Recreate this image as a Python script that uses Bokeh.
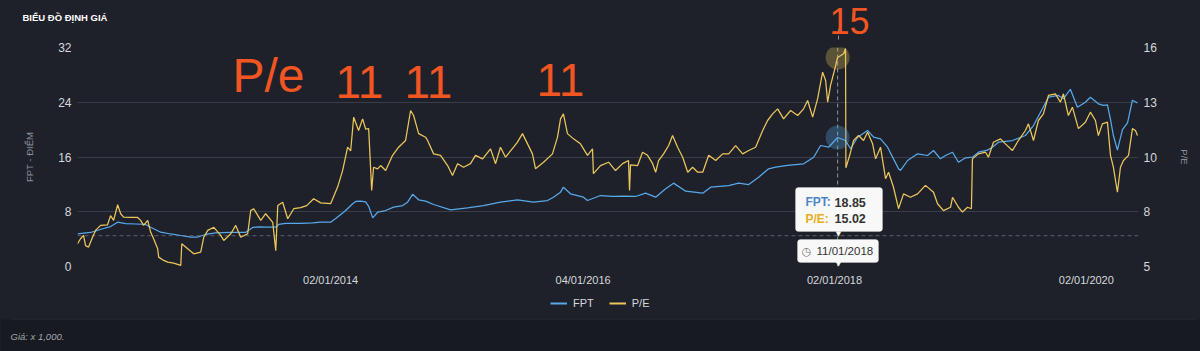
import math
from datetime import datetime
from bokeh.plotting import figure
from bokeh.layouts import column
from bokeh.models import (Range1d, LinearAxis, FixedTicker, DatetimeTickFormatter, Span, Label,
                          BoxAnnotation, Legend, LegendItem)
from bokeh.embed import file_html
from bokeh.resources import INLINE

# ---------------- data ----------------
# dates as decimal years
fpt_years = [
    2011.995, 2012.098, 2012.202, 2012.257, 2012.313, 2012.376, 2012.456, 2012.535, 2012.575, 2012.654,
    2012.733, 2012.813, 2012.892, 2012.948,
    2013.011, 2013.090, 2013.210, 2013.329, 2013.384, 2013.432, 2013.487, 2013.567, 2013.590, 2013.646,
    2013.765, 2013.860, 2013.924,
    2014.003, 2014.043, 2014.106, 2014.122, 2014.178, 2014.202, 2014.241, 2014.281, 2014.305, 2014.337,
    2014.376, 2014.440, 2014.503, 2014.575, 2014.614, 2014.654, 2014.702, 2014.757, 2014.821, 2014.956,
    2015.090, 2015.217, 2015.352, 2015.487, 2015.614, 2015.725, 2015.773, 2015.829, 2015.852, 2015.908,
    2016.011, 2016.043, 2016.146, 2016.241, 2016.329, 2016.424, 2016.503, 2016.583, 2016.662, 2016.725,
    2016.821, 2016.956,
    2017.019, 2017.162, 2017.241, 2017.321, 2017.400, 2017.479, 2017.535, 2017.630, 2017.757, 2017.837,
    2017.892, 2017.956,
    2018.027, 2018.090, 2018.130, 2018.186, 2018.265, 2018.313, 2018.368, 2018.424, 2018.471, 2018.511,
    2018.527, 2018.583, 2018.662, 2018.741, 2018.789, 2018.844, 2018.884, 2018.940, 2018.987,
    2019.043, 2019.098, 2019.146, 2019.217, 2019.257, 2019.305, 2019.416, 2019.519, 2019.583, 2019.638,
    2019.702, 2019.781, 2019.821, 2019.876, 2019.932, 2019.995,
    2020.035, 2020.098, 2020.138, 2020.170, 2020.194, 2020.217, 2020.249, 2020.289, 2020.329, 2020.368,
    2020.408,
]
fpt_values = [
    4.78, 4.97, 5.55, 5.84, 6.47, 6.28, 6.21, 6.14, 5.74, 5.01, 4.75, 4.53, 4.28, 4.31,
    4.68, 4.90, 4.97, 5.00, 5.70, 5.80, 5.74, 5.74, 6.14, 6.30, 6.30, 6.36, 6.50,
    6.47, 7.00, 7.93, 8.18, 9.16, 9.50, 9.55, 9.45, 8.80, 7.10, 7.93, 8.18, 8.67, 8.90, 9.40, 10.55,
    9.75, 9.55, 9.06, 8.28,
    8.57, 8.91, 9.40, 9.74, 9.40, 9.64, 10.13, 10.86, 11.59, 10.62,
    10.13, 9.64, 10.37, 10.23, 10.30, 10.23, 10.71, 10.13, 11.35, 12.18, 11.00, 10.71,
    11.59, 11.83, 12.17, 11.98, 13.05, 14.28, 14.51, 14.76, 15.00, 15.97, 17.68, 17.43,
    18.85, 18.41, 17.20, 18.89, 19.87, 18.90, 18.65, 17.43, 15.73, 14.28, 14.03, 15.49, 16.46, 16.22,
    16.95, 15.73, 16.22, 16.70, 15.24,
    15.88, 15.97, 16.70, 17.00, 17.43, 18.16, 18.41, 19.14, 20.60, 22.50, 24.74, 24.99, 24.50, 25.90,
    23.28, 24.01,
    24.74, 23.77, 23.53, 23.60, 21.50, 19.14, 17.00, 20.00, 21.00, 24.30, 23.90,
]

pe_years = [
    2011.995, 2012.019, 2012.043, 2012.059, 2012.083, 2012.114, 2012.138, 2012.178, 2012.233, 2012.257,
    2012.281, 2012.313, 2012.337, 2012.360, 2012.416, 2012.471, 2012.495, 2012.519, 2012.551, 2012.575,
    2012.598, 2012.630, 2012.638, 2012.678, 2012.710, 2012.757, 2012.813, 2012.821, 2012.868, 2012.916,
    2012.971, 2012.995,
    2013.027, 2013.075, 2013.130, 2013.154, 2013.210, 2013.249, 2013.289, 2013.344, 2013.368, 2013.392,
    2013.448, 2013.487, 2013.543, 2013.567, 2013.583, 2013.622, 2013.662, 2013.710, 2013.765, 2013.813,
    2013.868, 2013.924,
    2014.003, 2014.059, 2014.098, 2014.138, 2014.162, 2014.186, 2014.225, 2014.257, 2014.281, 2014.305,
    2014.329, 2014.344, 2014.376, 2014.400, 2014.440, 2014.495, 2014.543, 2014.598, 2014.638, 2014.662,
    2014.702, 2014.757, 2014.773, 2014.821, 2014.876, 2014.932, 2014.971,
    2015.011, 2015.059, 2015.114, 2015.154, 2015.210, 2015.273, 2015.313, 2015.352, 2015.392, 2015.456,
    2015.487, 2015.527, 2015.567, 2015.606, 2015.630, 2015.694, 2015.765, 2015.805, 2015.829, 2015.852,
    2015.884, 2015.932, 2015.987,
    2016.043, 2016.083, 2016.090, 2016.146, 2016.210, 2016.265, 2016.321, 2016.368, 2016.376, 2016.384,
    2016.440, 2016.479, 2016.519, 2016.559, 2016.583, 2016.606, 2016.646, 2016.686, 2016.717, 2016.757,
    2016.797, 2016.837, 2016.876, 2016.916, 2016.956,
    2017.003, 2017.059, 2017.114, 2017.162, 2017.217, 2017.273, 2017.321, 2017.376, 2017.432, 2017.471,
    2017.511, 2017.551, 2017.598, 2017.654, 2017.710, 2017.757, 2017.789, 2017.829, 2017.868, 2017.908,
    2017.932, 2017.948, 2017.971, 2017.995,
    2018.027, 2018.075, 2018.090, 2018.093, 2018.130, 2018.154, 2018.194, 2018.233, 2018.265, 2018.305,
    2018.329, 2018.368, 2018.408, 2018.432, 2018.471, 2018.511, 2018.551, 2018.606, 2018.662, 2018.725,
    2018.789, 2018.821, 2018.868, 2018.924, 2018.940, 2018.987,
    2019.019, 2019.059, 2019.090, 2019.098, 2019.146, 2019.202, 2019.225, 2019.265, 2019.321, 2019.360,
    2019.416, 2019.463, 2019.519, 2019.543, 2019.583, 2019.622, 2019.662, 2019.702, 2019.757, 2019.797,
    2019.821, 2019.860, 2019.892, 2019.940, 2019.995,
    2020.035, 2020.075, 2020.098, 2020.130, 2020.170, 2020.194, 2020.217, 2020.249, 2020.273, 2020.297,
    2020.337, 2020.368, 2020.392, 2020.408,
]
pe_values = [
    6.09, 6.33, 6.49, 6.00, 5.93, 6.40, 6.73, 6.97, 7.00, 7.44, 7.21, 7.96, 7.53, 7.37, 7.35, 7.35,
    7.21, 6.97, 7.21, 6.64, 6.33, 5.85, 5.45, 5.29, 5.21, 5.16, 5.05, 6.09, 5.85, 5.61, 5.69, 6.40,
    6.73, 6.88, 6.49, 6.25, 6.57, 6.97, 6.40, 6.57, 7.68, 7.77, 7.21, 7.53, 7.12, 5.76, 7.92, 8.08,
    7.29, 7.77, 7.82, 7.92, 8.25, 8.05,
    8.01, 8.82, 9.60, 10.72, 10.54, 12.16, 11.52, 12.08, 11.59, 11.61, 8.65, 9.76, 9.68, 9.84, 9.60,
    10.33, 10.72, 11.04, 12.48, 12.24, 11.37, 11.20, 11.04, 10.40, 10.33, 9.84, 9.36,
    9.93, 9.76, 9.93, 10.33, 10.16, 10.64, 9.93, 10.72, 10.24, 10.72, 10.96, 11.37, 10.88, 10.40,
    9.69, 10.00, 10.40, 11.20, 12.08, 12.32, 11.37, 11.12, 10.88,
    10.33, 10.64, 9.45, 9.84, 10.00, 9.60, 9.93, 10.08, 8.65, 9.87, 9.84, 10.48, 10.33, 9.93,
    9.52, 10.08, 10.40, 10.80, 11.28, 10.72, 10.24, 9.52, 9.76, 9.52, 9.52,
    10.33, 10.08, 10.40, 10.40, 10.80, 10.40, 10.56, 10.72, 11.52, 12.00, 12.32, 12.56, 12.08, 12.48,
    12.24, 12.56, 12.96, 12.16, 13.04, 14.32, 13.92, 12.88, 13.68, 14.24,
    15.02, 15.20, 15.45, 9.73, 10.48, 11.04, 11.28, 11.04, 11.44, 10.88, 10.16, 10.72, 9.21, 9.52,
    8.80, 7.77, 8.48, 8.32, 8.48, 8.89, 8.56, 8.01, 7.68, 7.84, 8.32, 7.84,
    7.61, 7.84, 7.77, 10.16, 10.40, 10.48, 10.24, 10.96, 11.12, 10.88, 10.56, 11.04, 11.52, 11.84,
    11.04, 12.00, 12.32, 13.20, 13.28, 12.88, 13.28, 12.24, 12.64, 11.61, 11.92,
    12.40, 12.00, 11.28, 11.84, 11.92, 10.33, 9.76, 8.56, 9.76, 10.08, 10.33, 11.61, 11.52, 11.28,
]

x_tick_dates = ["2014-01-02", "2016-01-04", "2018-01-02", "2020-01-02"]
x_start_year, x_end_year = 2011.995, 2020.416
left_ticks = [0, 8, 16, 24, 32]
right_range = (5, 15.5)
right_ticks = [5, 7.625, 10.25, 12.875, 15.5]
right_tick_labels = ["5", "8", "10", "13", "16"]
hover_date = "2018-01-11"
hover_fpt = 18.85
hover_pe = 15.02
ref_level = 4.5   # dashed reference line (FPT axis)

# ---------------- helpers ----------------
def dec_to_dt(y):
    yr = int(math.floor(y))
    a, b = datetime(yr, 1, 1), datetime(yr + 1, 1, 1)
    return a + (b - a) * (y - yr)

def to_ms(dt):
    return (dt - datetime(1970, 1, 1)).total_seconds() * 1000.0

fpt_x = [dec_to_dt(v) for v in fpt_years]
pe_x = [dec_to_dt(v) for v in pe_years]
hover_dt = datetime.strptime(hover_date, "%Y-%m-%d")

OUTER = "#171a20"
PANEL = "#1e2129"
BORDER = "#2c303a"
GRID = "#383d48"
BLUE = "#58a8ec"
YELLOW = "#ecc75c"
LABEL = "#d5d8dd"
MUTED = "#8a8f98"
FONT = "Liberation Sans"
HAND = "#f25522"
W = 1200
TOP_H, MAIN_H, BOT_H = 41, 249, 61
MAIN_TOP = 6          # space above the plot frame inside the main figure
PAGE_OFF = TOP_H      # page y of the main figure's top edge


def no_align(f):
    try:
        f.frame_align = False
    except Exception:
        pass


def blank_fig(height, y0, y1):
    f = figure(width=W, height=height, output_backend="svg", toolbar_location=None,
               x_range=Range1d(0, W), y_range=Range1d(y0, y1),
               x_axis_location=None, y_axis_location=None,
               min_border=0, min_border_left=0, min_border_right=0, min_border_top=0, min_border_bottom=0,
               background_fill_color=PANEL, border_fill_color=PANEL, outline_line_color=None)
    f.outline_line_alpha = 0
    f.grid.visible = False
    no_align(f)
    return f


def text(fig, x, y, s, size, color, style="normal", align="left", font=FONT, units="data"):
    fig.add_layout(Label(x=x, y=y, x_units=units, y_units=units, text=s, text_font=font,
                         text_font_size=size, text_color=color, text_font_style=style,
                         text_align=align, text_baseline="middle"))


def mtext(x, page_y, s, size, color, **kw):
    """text in the main figure, placed by page y"""
    text(p, x, page_y - PAGE_OFF, s, size, color, units="canvas", **kw)


# ---------------- top strip (title, hand note, crosshair top) ----------------
top = blank_fig(TOP_H, TOP_H, 0)
text(top, 22, 17, "BIỂU ĐỒ ĐỊNH GIÁ", "9.5px", "#ffffff", style="bold")
text(top, 849, 20.5, "15", "36px", HAND, align="center")
top.segment(x0=[838], y0=[28], x1=[838], y1=[TOP_H], line_color="#8d939d", line_dash="4 3", line_width=1)

# ---------------- main chart ----------------
p = figure(width=W, height=MAIN_H, x_axis_type="datetime", output_backend="svg", toolbar_location=None,
           x_range=Range1d(dec_to_dt(x_start_year), dec_to_dt(x_end_year)), y_range=Range1d(0, 32),
           min_border_left=77, min_border_right=62, min_border_top=MAIN_TOP, min_border_bottom=24,
           background_fill_color=PANEL, border_fill_color=PANEL, outline_line_color=None)
no_align(p)
p.extra_y_ranges = {"pe": Range1d(*right_range)}

p.xaxis[0].ticker = FixedTicker(ticks=[to_ms(datetime.strptime(d, "%Y-%m-%d")) for d in x_tick_dates])
fmt = "%d/%m/%Y"
p.xaxis[0].formatter = DatetimeTickFormatter(microseconds=fmt, milliseconds=fmt, seconds=fmt, minsec=fmt,
                                             minutes=fmt, hourmin=fmt, hours=fmt, days=fmt, months=fmt,
                                             years=fmt)
p.yaxis[0].ticker = FixedTicker(ticks=left_ticks)
right_axis = LinearAxis(y_range_name="pe", ticker=FixedTicker(ticks=right_ticks),
                        major_label_overrides=dict(zip(right_ticks, right_tick_labels)))
p.add_layout(right_axis, "right")
for ax, size, standoff in [(p.xaxis[0], "11px", 7), (p.yaxis[0], "12px", 6), (right_axis, "12px", 5)]:
    ax.axis_line_color = None
    ax.major_tick_line_color = None
    ax.minor_tick_line_color = None
    ax.major_tick_out = 0
    ax.major_tick_in = 0
    ax.minor_tick_out = 0
    ax.minor_tick_in = 0
    ax.major_label_text_color = LABEL
    ax.major_label_text_font = FONT
    ax.major_label_text_font_size = size
    ax.major_label_standoff = standoff
for ax, lab, standoff in [(p.yaxis[0], "FPT - ĐIỂM", 20), (right_axis, "P/E", 19)]:
    ax.axis_label = lab
    ax.axis_label_standoff = standoff
    ax.axis_label_text_font = FONT
    ax.axis_label_text_font_size = "9.5px"
    ax.axis_label_text_font_style = "normal"
    ax.axis_label_text_color = MUTED
p.xgrid.visible = False
p.ygrid.ticker = FixedTicker(ticks=left_ticks)
p.ygrid.grid_line_color = GRID

p.add_layout(Span(location=ref_level, dimension="width", line_color="#5b616d", line_dash="4 3",
                  line_width=1, level="underlay"))
p.add_layout(Span(location=to_ms(hover_dt), dimension="height", line_color="#8d939d", line_dash="4 3",
                  line_width=1, level="underlay"))

r_fpt = p.line(fpt_x, fpt_values, line_color=BLUE, line_width=1.25)
r_pe = p.line(pe_x, pe_values, y_range_name="pe", line_color=YELLOW, line_width=1.25)

p.scatter([hover_dt], [hover_fpt], size=24, fill_color=BLUE, fill_alpha=0.3, line_color=None)
p.scatter([hover_dt], [hover_pe], y_range_name="pe", size=24, fill_color=YELLOW, fill_alpha=0.3,
          line_color=None)

# hand-written notes
mtext(268, 75, "P/e", "48px", HAND, align="center")
mtext(359, 81, "11", "46px", HAND, align="center")
mtext(428, 81, "11", "46px", HAND, align="center")
mtext(560, 79, "11", "46px", HAND, align="center")

# tooltip
box_kw = dict(left_units="canvas", right_units="canvas", top_units="canvas", bottom_units="canvas",
              fill_color="#ffffff", fill_alpha=0.97, line_color="#e2e2e2", line_width=1, border_radius=3)
p.add_layout(BoxAnnotation(left=795, right=882, top=187 - PAGE_OFF, bottom=231 - PAGE_OFF, **box_kw))
p.add_layout(BoxAnnotation(left=797, right=878, top=239 - PAGE_OFF, bottom=262 - PAGE_OFF, **box_kw))
mtext(838, 233, "▼", "7px", "#ffffff", align="center", font="DejaVu Sans")
mtext(838, 263.5, "▼", "7px", "#ffffff", align="center", font="DejaVu Sans")
mtext(805, 201.5, "FPT:", "12px", "#4a86c8", style="bold")
mtext(834, 201.5, f"{hover_fpt:.2f}", "12.5px", "#333333", style="bold")
mtext(805, 218, "P/E:", "12px", "#e8ad22", style="bold")
mtext(834, 218, f"{hover_pe:.2f}", "12.5px", "#333333", style="bold")
mtext(806, 250.5, "◷", "11px", "#777777", align="center", font="DejaVu Sans")
mtext(816, 250.5, hover_dt.strftime("%d/%m/%Y"), "11.5px", "#333333")

# ---------------- bottom strip (legend, footer) ----------------
Y0 = TOP_H + MAIN_H
bot = blank_fig(BOT_H, Y0 + BOT_H, Y0)
bot.add_layout(BoxAnnotation(left=0, right=W, top=319, bottom=351, fill_color=OUTER, fill_alpha=1,
                             line_color=None))
bot.segment(x0=[11], y0=[319], x1=[1195], y1=[319], line_color=BORDER, line_width=1)
# legend swatches: renderers whose points lie outside the visible area
lg_fpt = bot.line(x=[-50, -40], y=[Y0 - 50, Y0 - 50], line_color=BLUE, line_width=2)
lg_pe = bot.line(x=[-50, -40], y=[Y0 - 50, Y0 - 50], line_color=YELLOW, line_width=2)
legend = Legend(items=[LegendItem(label="FPT", renderers=[lg_fpt]), LegendItem(label="P/E", renderers=[lg_pe])],
                orientation="horizontal", location=(550, 41), background_fill_alpha=0, border_line_alpha=0,
                label_text_color=LABEL, label_text_font=FONT, label_text_font_size="11px",
                glyph_width=17, glyph_height=14, label_height=14, label_standoff=6, spacing=15,
                padding=0, margin=0)
bot.add_layout(legend)
text(bot, 10, 336, "Giá: x 1,000.", "9.5px", "#a3a7ae", style="italic")

layout = column(top, p, bot, spacing=0, styles={"background-color": PANEL})
open("out.html", "w").write(file_html(layout, INLINE))
